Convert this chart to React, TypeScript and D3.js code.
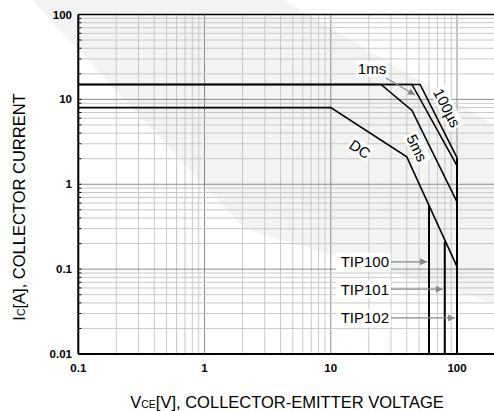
import * as d3 from 'd3';

// safe operating area curves, [VCE (V), IC (A)]
const dcCurve = [[0.1, 8], [10, 8], [40, 2.1], [100, 0.107]];
const ms5Curve = [[0.1, 15], [25, 15], [44, 7.4], [100, 0.62]];
const ms1Curve = [[0.1, 15], [44, 15], [100, 1.66]];
const us100Curve = [[0.1, 15], [51, 15], [100, 2.06]];

// VCEO limits of each part: [VCE, IC where the line starts]
const tipNames = ['TIP100', 'TIP101', 'TIP102'];
const tipVoltage = [60, 80, 100];
const tipTop = [0.56, 0.21, 2.06];
const tipLabelCurrent = [0.122, 0.058, 0.0266];

const xTicks = [0.1, 1, 10, 100];
const yTicks = [0.01, 0.1, 1, 10, 100];

const W = 494;
const H = 411;
const FONT = '"Liberation Sans", Arial, Helvetica, sans-serif';

const x = d3.scaleLog().domain([0.1, 100]).range([78.3, 457]);
const y = d3.scaleLog().domain([0.01, 100]).range([354, 14.5]);
const xMax = x.invert(W + 2);

const line = d3.line<number[]>().x(d => x(d[0])).y(d => y(d[1]));

const gridValues = (lo: number, hi: number) => {
    const out: { v: number; major: boolean }[] = [];
    for (let d = lo; d < hi * 1.01; d *= 10) {
        for (let k = 1; k <= 9; k++) {
            const v = d * k;
            if (v > lo * 0.999 && v <= hi) out.push({ v, major: k === 1 });
        }
    }
    return out;
};

const xGrid = gridValues(0.1, xMax);
const yGrid = gridValues(0.01, 100);

const Label = ({ cx, cy, angle, text, w, h }) => (
    <g transform={`translate(${cx},${cy}) rotate(${angle})`}>
        <rect x={-w / 2} y={-h / 2} width={w} height={h} fill="#fff" />
        <text textAnchor="middle" dy="0.36em" fontSize={15} fill="#000">{text}</text>
    </g>
);

export default function App() {
    const top = y(100);
    const bottom = y(0.01);
    const left = x(0.1);

    return (
        <svg width={W} height={H} style={{ position: 'absolute', left: 0, top: 0, background: '#fff' }}
            fontFamily={FONT}>
            <defs>
                <marker id="arr" viewBox="0 0 10 10" refX="10" refY="5" markerWidth="9" markerHeight="7"
                    markerUnits="userSpaceOnUse" orient="auto">
                    <path d="M0,0 L10,5 L0,10 z" fill="#888" />
                </marker>
            </defs>

            {/* faint watermark */}
            <path d="M32,0 L283,0 L494,125 L494,303 L245,229 Z" fill="#f3f3f3" />

            {/* grid */}
            {xGrid.map((g, i) => (
                <line key={'xg' + i} x1={x(g.v)} x2={x(g.v)} y1={top} y2={bottom}
                    stroke={g.major ? '#8c8c8c' : '#c8c8c8'} strokeWidth={1} />
            ))}
            {yGrid.map((g, i) => (
                <line key={'yg' + i} x1={left} x2={W + 2} y1={y(g.v)} y2={y(g.v)}
                    stroke={g.major ? '#8c8c8c' : '#c8c8c8'} strokeWidth={1} />
            ))}

            {/* inner ticks on the left spine */}
            {yGrid.map((g, i) => (
                <line key={'yt' + i} x1={left} x2={left + 3} y1={y(g.v)} y2={y(g.v)} stroke="#000" strokeWidth={1} />
            ))}

            {/* frame */}
            <line x1={left} x2={W + 2} y1={top} y2={top} stroke="#000" strokeWidth={1.5} />
            <line x1={left} x2={W + 2} y1={bottom} y2={bottom} stroke="#000" strokeWidth={2} />
            <line x1={left} x2={left} y1={top} y2={bottom} stroke="#000" strokeWidth={2} />

            {/* curves */}
            {[dcCurve, ms5Curve, ms1Curve, us100Curve].map((c, i) => (
                <path key={'c' + i} d={line(c)} fill="none" stroke="#000" strokeWidth={1.6} />
            ))}
            {tipVoltage.map((v, i) => (
                <line key={'tv' + i} x1={x(v)} x2={x(v)} y1={y(tipTop[i])} y2={bottom}
                    stroke="#000" strokeWidth={2} />
            ))}

            {/* curve labels */}
            <Label cx={372} cy={69} angle={0} text="1ms" w={32} h={16} />
            <line x1={386} y1={78} x2={415} y2={95} stroke="#888" strokeWidth={1.2} markerEnd="url(#arr)" />
            <Label cx={447} cy={108} angle={63} text="100µs" w={44} h={16} />
            <Label cx={417} cy={148} angle={64} text="5ms" w={32} h={16} />
            <Label cx={360} cy={149} angle={34} text="DC" w={24} h={16} />

            {/* part labels */}
            {tipNames.map((n, i) => (
                <g key={n}>
                    <rect x={336} y={y(tipLabelCurrent[i]) - 9} width={55} height={18} fill="#fff" />
                    <text x={389} y={y(tipLabelCurrent[i])} dy="0.36em" textAnchor="end" fontSize={15}>{n}</text>
                    <line x1={391} x2={x(tipVoltage[i]) - 2} y1={y(tipLabelCurrent[i])} y2={y(tipLabelCurrent[i])}
                        stroke="#888" strokeWidth={1.2} markerEnd="url(#arr)" />
                </g>
            ))}

            {/* tick labels */}
            {xTicks.map(t => (
                <text key={'xl' + t} x={x(t)} y={372} textAnchor="middle" fontSize={11.5} fontWeight="bold">
                    {d3.format('~g')(t)}
                </text>
            ))}
            {yTicks.map(t => (
                <text key={'yl' + t} x={72} y={y(t)} dy="0.35em" textAnchor="end" fontSize={11.5} fontWeight="bold">
                    {d3.format('~g')(t)}
                </text>
            ))}

            {/* axis titles */}
            <text x={287} y={408} textAnchor="middle" fontSize={16.5}>
                V<tspan fontSize={10.5}>CE</tspan>[V], COLLECTOR-EMITTER VOLTAGE
            </text>
            <text transform={`translate(25,${207}) rotate(-90)`} textAnchor="middle" fontSize={16.5}>
                I<tspan fontSize={10.5}>C</tspan>[A], COLLECTOR CURRENT
            </text>
        </svg>
    );
}
